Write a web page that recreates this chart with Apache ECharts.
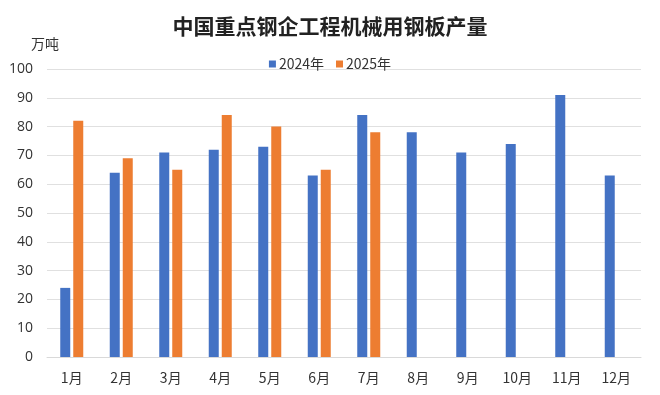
<!DOCTYPE html>
<html>
<head>
<meta charset="utf-8">
<script src="https://cdn.jsdelivr.net/npm/echarts@6/dist/echarts.min.js"></script>
<style>html,body{margin:0;padding:0;background:#fff}#c{width:660px;height:395px}</style>
</head>
<body>
<div id="c"></div>
<script>
var categories = ['1月','2月','3月','4月','5月','6月','7月','8月','9月','10月','11月','12月'];
var s2024 = [24, 64, 71, 72, 73, 63, 84, 78, 71, 74, 91, 63];
var s2025 = [82, 69, 65, 84, 80, 65, 78];
var seriesNames = ['2024年', '2025年'];
var yTicks = { min: 0, max: 100, interval: 10 };

var chart = echarts.init(document.getElementById('c'), null, { renderer: 'canvas' });
var font = '"Noto Sans CJK SC", "Open Sans", sans-serif';
chart.setOption({
  backgroundColor: '#fff',
  animation: false,
  title: {
    text: '中国重点钢企工程机械用钢板产量',
    left: 'center', top: 11,
    textStyle: { fontFamily: font, fontSize: 21, fontWeight: 'bold', color: '#222' }
  },
  graphic: [{
    type: 'text', left: 31, top: 37,
    style: { text: '万吨', font: '14px "Noto Sans CJK SC", sans-serif', fill: '#333' }
  }],
  legend: {
    data: seriesNames, top: 52, left: 'center',
    itemWidth: 7, itemHeight: 7, itemGap: 12, icon: 'rect',
    textStyle: { fontFamily: font, fontSize: 14, color: '#333', padding: [0, 0, 0, -2] }
  },
  grid: { left: 47, right: 19, top: 69, bottom: 38, containLabel: false },
  xAxis: {
    type: 'category', data: categories,
    axisLine: { lineStyle: { color: '#d9d9d9' } },
    axisTick: { show: false },
    axisLabel: { fontFamily: font, fontSize: 14, color: '#333', margin: 14 }
  },
  yAxis: {
    type: 'value', min: yTicks.min, max: yTicks.max, interval: yTicks.interval,
    axisLine: { show: false }, axisTick: { show: false },
    splitLine: { lineStyle: { color: '#e0e0e0' } },
    axisLabel: { fontFamily: '"Open Sans", sans-serif', fontSize: 14, color: '#333', margin: 14 }
  },
  series: [
    { name: seriesNames[0], type: 'bar', data: s2024, barWidth: 10, barGap: '30%', itemStyle: { color: '#4472C4' } },
    { name: seriesNames[1], type: 'bar', data: s2025, barWidth: 10, itemStyle: { color: '#ED7D31' } }
  ]
});
</script>
</body>
</html>
